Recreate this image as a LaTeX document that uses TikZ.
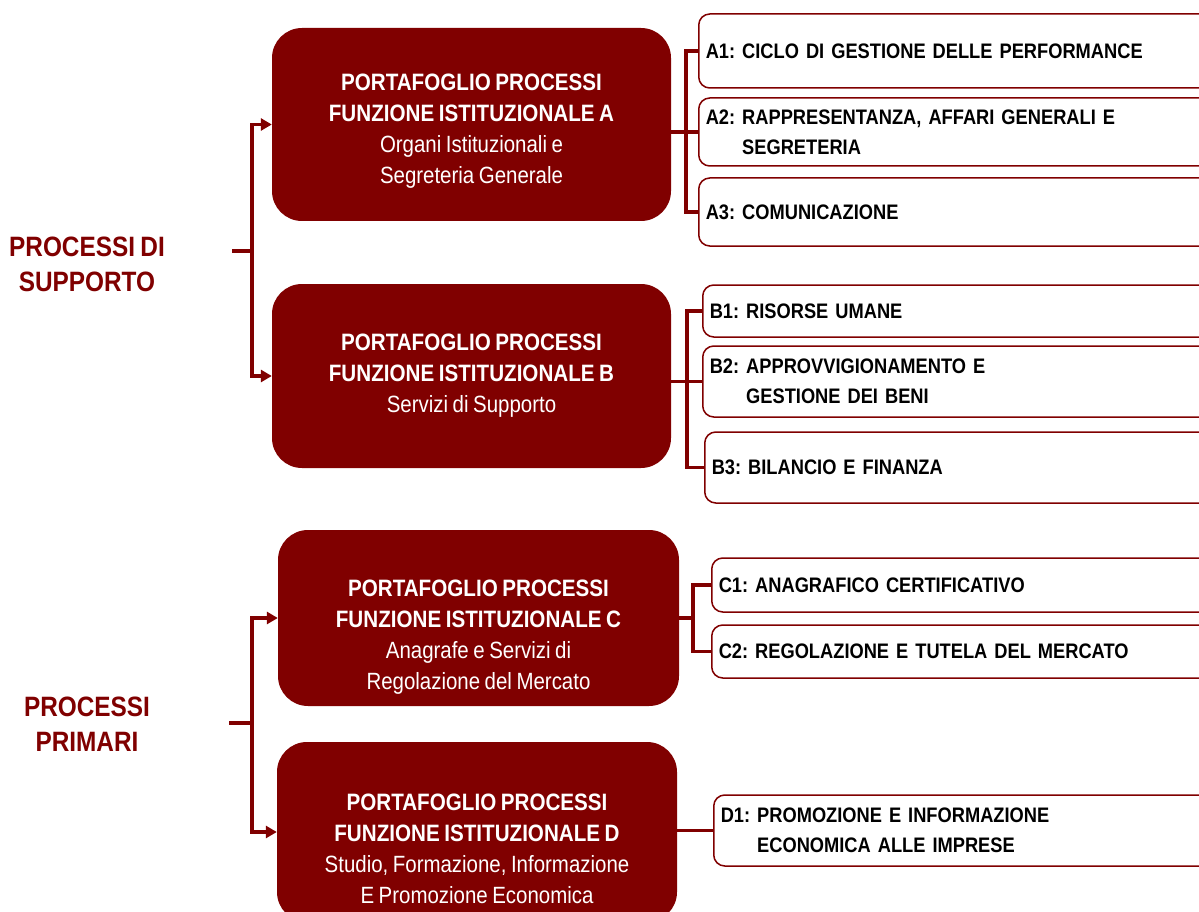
\documentclass[tikz,border=0pt]{standalone}
\usepackage{fontspec}
\setmainfont{Liberation Sans}[FakeStretch=0.87,WordSpace=0.8]
\usetikzlibrary{arrows.meta}
\definecolor{bordeaux}{RGB}{128,0,0}
\frenchspacing
\tikzset{
  mainbox/.style={fill=bordeaux, rounded corners=30pt, inner sep=0pt},
  maintext/.style={text=white, align=center, inner sep=0pt, font=\fontsize{23.7}{31}\selectfont\bfseries},
  subbox/.style={draw=bordeaux, line width=1.5pt, rounded corners=11pt, fill=white, anchor=west,
    text width=500pt, align=left, inner xsep=7pt, inner ysep=0pt, font=\fontsize{21}{30}\selectfont\bfseries},
  grouplabel/.style={text=bordeaux, align=center, font=\fontsize{28}{35}\selectfont\bfseries},
  link/.style={draw=bordeaux, line width=3.5pt},
  arrowlink/.style={link, -{Triangle[length=11pt,width=12pt]}},
}
\newcommand{\descr}[1]{{\mdseries\fontsize{23.5}{31}\selectfont #1}}
\begin{document}
\begin{tikzpicture}[x=1pt,y=1pt,yscale=-1,xscale=1]
\clip (0,0) rectangle (1199,912);

% Main boxes
\node[mainbox, minimum width=399pt, minimum height=193pt] (funzA) at (471.5,124.5) {};
\node[mainbox, minimum width=399pt, minimum height=184pt] (funzB) at (471.5,376) {};
\node[mainbox, minimum width=401pt, minimum height=176pt] (funzC) at (478.5,618) {};
\node[mainbox, minimum width=400pt, minimum height=180pt] (funzD) at (477,832) {};

% Text Node
\node[maintext] (txtA) at (471.5,131) {PORTAFOGLIO PROCESSI\\FUNZIONE ISTITUZIONALE A\\\descr{Organi Istituzionali e}\\\descr{Segreteria Generale}};
\node[maintext] (txtB) at (471.5,376) {PORTAFOGLIO PROCESSI\\FUNZIONE ISTITUZIONALE B\\\descr{Servizi di Supporto}};
\node[maintext] (txtC) at (478.5,637) {PORTAFOGLIO PROCESSI\\FUNZIONE ISTITUZIONALE C\\\descr{Anagrafe e Servizi di}\\\descr{Regolazione del Mercato}};
\node[maintext] (txtD) at (477,848.5) {PORTAFOGLIO PROCESSI\\FUNZIONE ISTITUZIONALE D\\\descr{Studio, Formazione, Informazione}\\\descr{E Promozione Economica}};

% Process boxes
\node[subbox, minimum height=74pt] (a1) at (698,51) {A1: CICLO DI GESTIONE DELLE PERFORMANCE};
\node[subbox, minimum height=68pt] (a2) at (698,132) {A2: RAPPRESENTANZA, AFFARI GENERALI E\\\phantom{A2:~}SEGRETERIA};
\node[subbox, minimum height=68pt] (a3) at (698,212) {A3: COMUNICAZIONE};
\node[subbox, minimum height=52pt] (b1) at (702,311) {B1: RISORSE UMANE};
\node[subbox, minimum height=71pt] (b2) at (702,381.5) {B2: APPROVVIGIONAMENTO E\\\phantom{B2:~}GESTIONE DEI BENI};
\node[subbox, minimum height=71pt] (b3) at (704,467.5) {B3: BILANCIO E FINANZA};
\node[subbox, minimum height=54pt] (c1) at (711,585) {C1: ANAGRAFICO CERTIFICATIVO};
\node[subbox, minimum height=53pt] (c2) at (711,651.5) {C2: REGOLAZIONE E TUTELA DEL MERCATO};
\node[subbox, minimum height=71pt] (d1) at (713,830.5) {D1: PROMOZIONE E INFORMAZIONE\\\phantom{D1:~}ECONOMICA ALLE IMPRESE};

% Group labels
\node[grouplabel] (supporto) at (87,264) {PROCESSI DI\\SUPPORTO};
\node[grouplabel] (primari) at (87,724) {PROCESSI\\PRIMARI};

% Left brackets
\coordinate (supStub) at (232,251);
\coordinate (supBar) at (252,251);
\draw[link] (supStub) -- (supBar);
\draw[arrowlink] (supBar) |- (funzA.west);
\draw[arrowlink] (supBar) |- (funzB.west);

\coordinate (priStub) at (229,723);
\coordinate (priBar) at (252,723);
\draw[link] (priStub) -- (priBar);
\draw[arrowlink] (priBar) |- (funzC.west);
\draw[arrowlink] (priBar) |- (funzD.west);

% Right brackets
\draw[link] (funzA.east |- a2.west) -- (a2.west);
\draw[link] (a1.west) -- ++(-12,0) |- (a3.west);
\draw[link] (funzB.east |- b2.west) -- (b2.west);
\draw[link] (b1.west) -- ++(-15,0) |- (b3.west);
\draw[link] (funzC.east) -- ++(14,0);
\draw[link] (c1.west) -- ++(-18,0) |- (c2.west);
\draw[link] (funzD.east |- d1.west) -- (d1.west);

\end{tikzpicture}
\end{document}
